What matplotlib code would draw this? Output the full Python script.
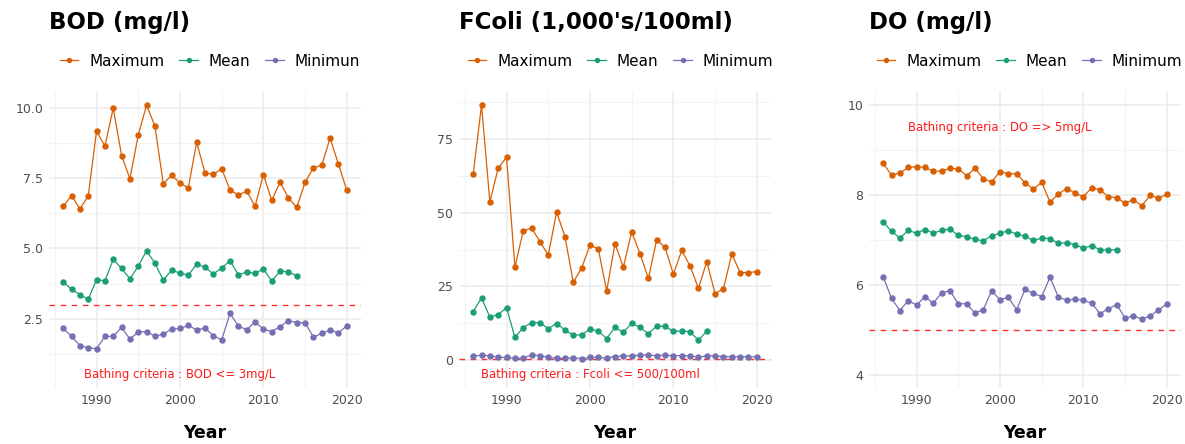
import numpy as np
import matplotlib
matplotlib.use("Agg")
import matplotlib.pyplot as plt
from matplotlib.ticker import MultipleLocator

years = list(range(1986, 2021))
years_mean = list(range(1986, 2015))

bod_max = [6.50, 6.88, 6.41, 6.87, 9.18, 8.64, 10.0, 8.31, 7.48, 9.04, 10.11, 9.35, 7.30, 7.61,
           7.33, 7.16, 8.78, 7.69, 7.64, 7.84, 7.09, 6.90, 7.04, 6.50, 7.63, 6.71, 7.36, 6.80,
           6.46, 7.36, 7.87, 7.97, 8.93, 8.00, 7.07]
bod_mean = [3.82, 3.54, 3.36, 3.19, 3.89, 3.85, 4.61, 4.29, 3.92, 4.37, 4.92, 4.47, 3.87, 4.23,
            4.12, 4.05, 4.44, 4.33, 4.09, 4.31, 4.56, 4.06, 4.16, 4.11, 4.27, 3.84, 4.19, 4.17,
            4.02]
bod_min = [2.16, 1.87, 1.54, 1.46, 1.43, 1.87, 1.87, 2.19, 1.77, 2.03, 2.04, 1.87, 1.95, 2.13,
           2.15, 2.26, 2.10, 2.16, 1.90, 1.74, 2.69, 2.23, 2.11, 2.38, 2.13, 2.04, 2.22, 2.43,
           2.36, 2.35, 1.84, 1.98, 2.09, 1.99, 2.25]

fcoli_max = [63.0, 86.5, 53.7, 65.1, 68.8, 31.5, 43.8, 44.8, 40.2, 35.6, 50.2, 41.9, 26.4, 31.2,
             39.0, 37.7, 23.4, 39.5, 31.5, 43.5, 36.1, 27.7, 40.8, 38.2, 29.1, 37.2, 31.9, 24.3,
             33.4, 22.5, 24.2, 36.0, 29.7, 29.7, 30.0]
fcoli_mean = [16.4, 21.1, 14.6, 15.4, 17.8, 7.7, 11.0, 12.7, 12.7, 10.7, 12.4, 10.2, 8.4, 8.6,
              10.5, 9.8, 7.3, 11.1, 9.4, 12.5, 11.1, 8.9, 11.6, 11.4, 9.7, 9.9, 9.6, 6.7, 9.8]
fcoli_min = [1.4, 1.6, 1.5, 0.9, 0.9, 0.6, 0.6, 1.8, 1.5, 0.9, 0.6, 0.6, 0.8, 0.5, 0.9, 0.9,
             0.7, 1.2, 1.4, 1.4, 1.7, 1.7, 1.5, 1.7, 1.5, 1.5, 1.5, 0.9, 1.5, 1.4, 1.2, 1.1,
             1.2, 1.1, 1.1]

do_max = [8.70, 8.44, 8.49, 8.61, 8.63, 8.61, 8.53, 8.53, 8.59, 8.58, 8.43, 8.59, 8.36, 8.29,
          8.52, 8.47, 8.47, 8.27, 8.13, 8.28, 7.84, 8.02, 8.14, 8.04, 7.96, 8.16, 8.11, 7.96,
          7.94, 7.82, 7.89, 7.76, 7.99, 7.93, 8.01]
do_mean = [7.40, 7.19, 7.04, 7.21, 7.15, 7.23, 7.15, 7.21, 7.24, 7.10, 7.07, 7.01, 6.98, 7.09,
           7.15, 7.20, 7.13, 7.08, 6.99, 7.04, 7.03, 6.92, 6.94, 6.89, 6.82, 6.87, 6.78, 6.78,
           6.78]
do_min = [6.18, 5.70, 5.43, 5.65, 5.55, 5.74, 5.59, 5.82, 5.87, 5.58, 5.58, 5.37, 5.45, 5.87,
          5.67, 5.72, 5.45, 5.90, 5.81, 5.74, 6.17, 5.73, 5.66, 5.68, 5.66, 5.59, 5.36, 5.47,
          5.56, 5.26, 5.31, 5.24, 5.31, 5.44, 5.58]

colors = ["#D95F02", "#1B9E77", "#7570B3"]

panels = [
    dict(title="BOD (mg/l)", data=(bod_max, bod_mean, bod_min),
         labels=["Maximum", "Mean", "Minimun"], crit=3,
         note="Bathing criteria : BOD <= 3mg/L", note_y=0.5,
         ylim=(0.02, 10.59), major=2.5, fmt="{:.1f}", left=49, leg=60),
    dict(title="FColi (1,000's/100ml)", data=(fcoli_max, fcoli_mean, fcoli_min),
         labels=["Maximum", "Mean", "Minimum"], crit=0.5,
         note="Bathing criteria : Fcoli <= 500/100ml", note_y=-5,
         ylim=(-9.58, 91.1), major=25, fmt="{:.0f}", left=459, leg=468),
    dict(title="DO (mg/l)", data=(do_max, do_mean, do_min),
         labels=["Maximum", "Mean", "Minimum"], crit=5,
         note="Bathing criteria : DO => 5mg/L", note_y=9.5,
         ylim=(3.7, 10.3), major=2, fmt="{:.0f}", left=869, leg=877),
]

W, H = 1185, 444
fig = plt.figure(figsize=(W / 100, H / 100), dpi=100)

ax_bottom = (H - 388.3) / H
ax_h = 296.8 / H

for p in panels:
    ax = fig.add_axes([p["left"] / W, ax_bottom, 312 / W, ax_h])
    mx, mn, mi = p["data"]
    handles = []
    for vals, xs, c, lab in zip((mx, mn, mi), (years, years_mean, years), colors, p["labels"]):
        h, = ax.plot(xs, vals, color=c, lw=0.9, marker="o", markersize=3.6, label=lab, zorder=3)
        handles.append(h)

    ax.axhline(p["crit"], color="#FF3030", lw=1.0, ls=(0, (4, 4)), zorder=2)
    ax.text(2000, p["note_y"], p["note"], color="#FF1A1A", fontsize=8.4,
            ha="center", va="center")

    ax.set_xlim(1984.3, 2021.7)
    ax.set_ylim(*p["ylim"])
    ax.xaxis.set_major_locator(MultipleLocator(10))
    ax.xaxis.set_minor_locator(MultipleLocator(5))
    ax.yaxis.set_major_locator(MultipleLocator(p["major"]))
    ax.yaxis.set_minor_locator(MultipleLocator(p["major"] / 2))
    ax.set_yticks([t for t in ax.get_yticks() if p["ylim"][0] <= t <= p["ylim"][1]])
    ax.set_yticklabels([p["fmt"].format(t) for t in ax.get_yticks()])
    ax.grid(which="major", color="#EBEBEB", lw=1.1, zorder=0)
    ax.grid(which="minor", color="#F3F3F3", lw=0.8, zorder=0)
    for s in ax.spines.values():
        s.set_visible(False)
    ax.tick_params(which="both", length=0, labelsize=9, colors="#4D4D4D", pad=4)
    ax.set_xlabel("Year", fontsize=12.5, fontweight="bold", labelpad=12)

    fig.text(p["left"] / W, 1 - 22 / H, p["title"], fontsize=16.5, fontweight="bold",
             ha="left", va="center")
    fig.legend(handles=handles, loc="center left",
               bbox_to_anchor=(p["leg"] / W, 1 - 61 / H), ncol=3, frameon=False,
               fontsize=11, handlelength=1.2, handletextpad=0.7, columnspacing=1.0,
               borderpad=0, borderaxespad=0, markerscale=0.8)

fig.savefig("out.png", dpi=100)
